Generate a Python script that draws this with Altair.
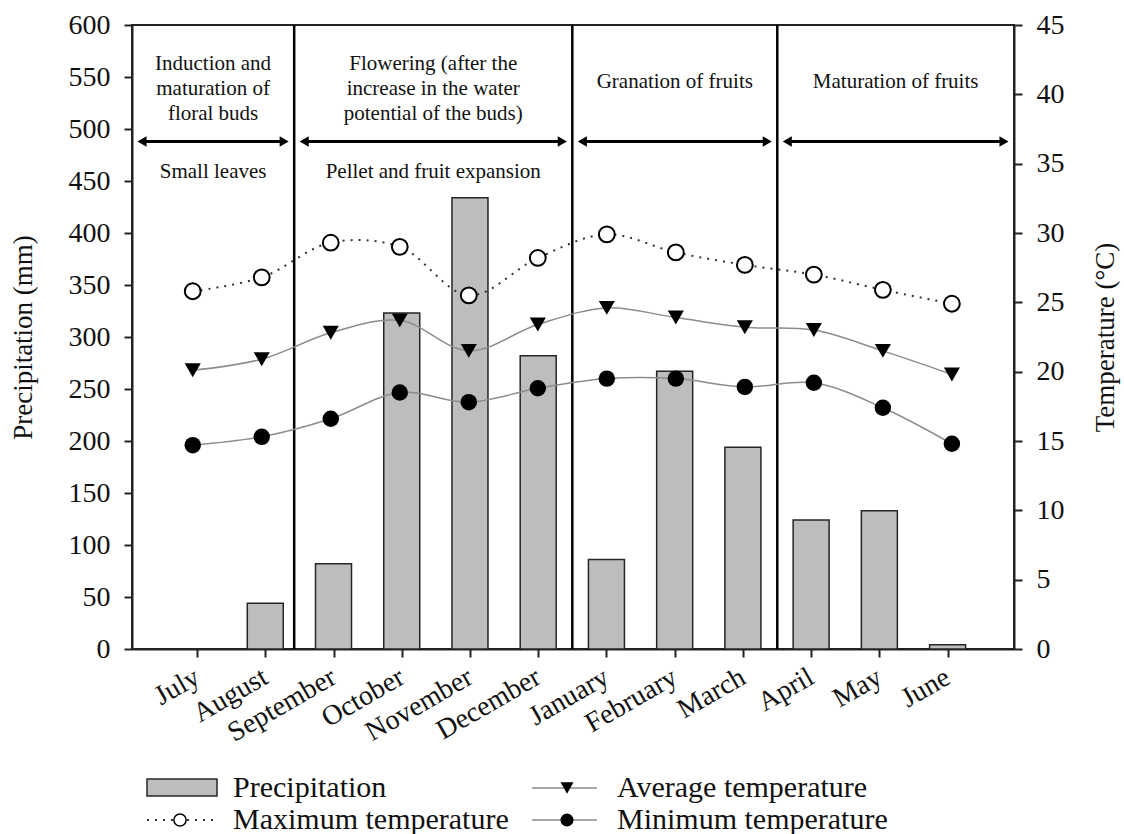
import altair as alt
import pandas as pd

# ---- data -----------------------------------------------------------------
months = ["July", "August", "September", "October", "November", "December",
          "January", "February", "March", "April", "May", "June"]
precip = [0, 44, 82, 323, 434, 282, 86, 267, 194, 124, 133, 4]          # mm
t_max = [25.8, 26.8, 29.3, 29.0, 25.5, 28.2, 29.9, 28.6, 27.7, 27.0, 25.9, 24.9]
t_avg = [20.1, 20.9, 22.8, 23.7, 21.5, 23.4, 24.6, 23.9, 23.2, 23.0, 21.5, 19.8]
t_min = [14.7, 15.3, 16.6, 18.5, 17.8, 18.8, 19.5, 19.5, 18.9, 19.2, 17.4, 14.8]

phase_titles = ["Induction and\nmaturation of\nfloral buds",
                "Flowering (after the\nincrease in the water\npotential of the buds)",
                "Granation of fruits",
                "Maturation of fruits"]
phase_notes = ["Small leaves", "Pellet and fruit expansion", "", ""]
phase_bounds = [0.12, 2.47, 6.5, 9.47, 12.9]       # in month-index units
phase_title_level = [573, 573, 556, 556]            # mm (left scale)
note_level = 469
arrow_level = 488

legend_labels = ["Precipitation", "Maximum temperature",
                 "Average temperature", "Minimum temperature"]

# ---- layout ---------------------------------------------------------------
FONT = "Liberation Serif"
PLOT_W, PLOT_H = 882, 624
X_DOMAIN = [phase_bounds[0], phase_bounds[-1]]
ARROW_INSET = 0.145      # arrow-head centre distance from a phase boundary


def xs():
    return alt.Scale(domain=X_DOMAIN, nice=False, zero=False)


def yl():
    return alt.Scale(domain=[0, 600], nice=False, zero=False)


def yr():
    return alt.Scale(domain=[0, 45], nice=False, zero=False)


idx = list(range(1, len(months) + 1))
df = pd.DataFrame({"idx": idx, "month": months, "precip": precip,
                   "tmax": t_max, "tavg": t_avg, "tmin": t_min})

phases = pd.DataFrame({
    "start": phase_bounds[:-1],
    "end": phase_bounds[1:],
    "title": phase_titles,
    "note": phase_notes,
    "title_y": phase_title_level,
})
phases["mid"] = (phases["start"] + phases["end"]) / 2
phases["a0"] = phases["start"] + ARROW_INSET
phases["a1"] = phases["end"] - ARROW_INSET
phases["arrow_y"] = arrow_level
phases["note_y"] = note_level
dividers = pd.DataFrame({"b": phase_bounds[1:-1]})

label_expr = "[" + ",".join(f"'{m}'" for m in months) + "][datum.value - 1]"

x_axis = alt.Axis(values=idx, labelExpr=label_expr, title=None, grid=False,
                  labelAngle=330, labelFontSize=28, tickSize=8,
                  labelAlign="right", labelBaseline="middle",
                  labelPadding=18, labelOverlap=False, labelBound=False)

base = alt.Chart(df)

bars = base.mark_bar(size=36, fill="#bdbdbd", stroke="#262626", strokeWidth=1.5).encode(
    x=alt.X("idx:Q", scale=xs(), axis=x_axis),
    y=alt.Y("precip:Q", scale=yl(),
            axis=alt.Axis(values=list(range(0, 601, 50)), title="Precipitation (mm)",
                          orient="left", grid=False, tickSize=8, labelPadding=14,
                          titlePadding=31, labelFontSize=28, titleFontSize=27)),
)

rules = alt.Chart(dividers).mark_rule(color="black", strokeWidth=2.5).encode(
    x=alt.X("b:Q", scale=xs(), axis=None),
    y=alt.value(0), y2=alt.value(PLOT_H),
)

pc = alt.Chart(phases)
arrow_shafts = pc.mark_rule(color="black", strokeWidth=3).encode(
    x=alt.X("a0:Q", scale=xs(), axis=None), x2="a1:Q",
    y=alt.Y("arrow_y:Q", scale=yl(), axis=None))
head_l = pc.mark_point(shape="triangle-left", filled=True, color="black", size=110,
                       opacity=1).encode(
    x=alt.X("a0:Q", scale=xs(), axis=None), y=alt.Y("arrow_y:Q", scale=yl(), axis=None))
head_r = pc.mark_point(shape="triangle-right", filled=True, color="black", size=110,
                       opacity=1).encode(
    x=alt.X("a1:Q", scale=xs(), axis=None), y=alt.Y("arrow_y:Q", scale=yl(), axis=None))

titles = pc.mark_text(font=FONT, fontSize=21, lineBreak="\n", lineHeight=25,
                      baseline="top", align="center", color="#111").encode(
    x=alt.X("mid:Q", scale=xs(), axis=None),
    y=alt.Y("title_y:Q", scale=yl(), axis=None), text="title:N")
notes = pc.mark_text(font=FONT, fontSize=21, baseline="top", align="center",
                     color="#111").encode(
    x=alt.X("mid:Q", scale=xs(), axis=None),
    y=alt.Y("note_y:Q", scale=yl(), axis=None), text="note:N")

# temperatures on the right-hand scale
right_axis = alt.Axis(orient="right", values=list(range(0, 46, 5)), title="Temperature (°C)",
                      grid=False, tickSize=8, labelPadding=14, titlePadding=28,
                      labelFontSize=28, titleFontSize=27, titleAngle=270,
                      titleBaseline="top")


def temp_line(field, **kw):
    return base.mark_line(interpolate="catmull-rom", **kw).encode(
        x=alt.X("idx:Q", scale=xs(), axis=None),
        y=alt.Y(f"{field}:Q", scale=yr(), axis=None))


def temp_points(field, **kw):
    return base.mark_point(opacity=1, **kw).encode(
        x=alt.X("idx:Q", scale=xs(), axis=None),
        y=alt.Y(f"{field}:Q", scale=yr(), axis=None))


line_max = base.mark_line(interpolate="catmull-rom", color="#333", strokeWidth=2,
                          strokeDash=[2, 6]).encode(
    x=alt.X("idx:Q", scale=xs(), axis=None),
    y=alt.Y("tmax:Q", scale=yr(), axis=right_axis))
line_avg = temp_line("tavg", color="#8c8c8c", strokeWidth=1.5)
line_min = temp_line("tmin", color="#8c8c8c", strokeWidth=1.5)
pt_max = temp_points("tmax", shape="circle", filled=True, fill="white", stroke="black",
                     strokeWidth=2, size=250)
pt_avg = temp_points("tavg", shape="triangle-down", filled=True, color="black", size=260)
pt_min = temp_points("tmin", shape="circle", filled=True, color="black", size=270)

# ---- legend below the plot ------------------------------------------------
def one(label):
    return alt.Chart(pd.DataFrame({"label": [label]}))


ROW1, ROW2 = 763, 795
LEG_FS = 30
leg = [
    one(legend_labels[0]).mark_rect(fill="#bdbdbd", stroke="#262626", strokeWidth=1.5).encode(
        x=alt.value(15), x2=alt.value(85), y=alt.value(ROW1 - 9), y2=alt.value(ROW1 + 8)),
    one(legend_labels[1]).mark_rule(color="#333", strokeWidth=2, strokeDash=[2, 6]).encode(
        x=alt.value(15), x2=alt.value(84), y=alt.value(ROW2)),
    one(legend_labels[1]).mark_point(shape="circle", filled=True, fill="white",
                                      stroke="black", strokeWidth=1.5, size=150,
                                      opacity=1).encode(x=alt.value(48), y=alt.value(ROW2)),
    one(legend_labels[2]).mark_rule(color="#8c8c8c", strokeWidth=1.5).encode(
        x=alt.value(400), x2=alt.value(465), y=alt.value(ROW1)),
    one(legend_labels[2]).mark_point(shape="triangle-down", filled=True, color="black",
                                      size=170, opacity=1).encode(x=alt.value(435), y=alt.value(ROW1)),
    one(legend_labels[3]).mark_rule(color="#8c8c8c", strokeWidth=1.5).encode(
        x=alt.value(400), x2=alt.value(465), y=alt.value(ROW2)),
    one(legend_labels[3]).mark_point(shape="circle", filled=True, color="black",
                                      size=170, opacity=1).encode(x=alt.value(435), y=alt.value(ROW2)),
]
for i, (lx, ly) in enumerate([(101, ROW1), (101, ROW2), (485, ROW1), (485, ROW2)]):
    leg.append(one(legend_labels[i]).mark_text(font=FONT, fontSize=LEG_FS, align="left",
                                               baseline="middle", color="#111").encode(
        x=alt.value(lx), y=alt.value(ly), text="label:N"))

chart = alt.layer(
    bars, line_max, rules, arrow_shafts, head_l, head_r, titles, notes,
    line_avg, line_min, pt_max, pt_avg, pt_min, *leg,
).resolve_scale(x="independent", y="independent").properties(
    width=PLOT_W, height=PLOT_H,
    autosize=alt.AutoSizeParams(type="none"),
    padding={"left": 132, "top": 25, "right": 110, "bottom": 185},
).configure(
    font=FONT,
    background="white",
).configure_view(
    stroke="#222", strokeWidth=2,
).configure_axis(
    labelFont=FONT, titleFont=FONT, labelColor="#111", titleColor="#111",
    titleFontWeight="normal", domainColor="#222", domainWidth=2,
    tickColor="#222", tickWidth=2,
)

chart.save("out.html", embed_options={"renderer": "svg", "actions": False})
